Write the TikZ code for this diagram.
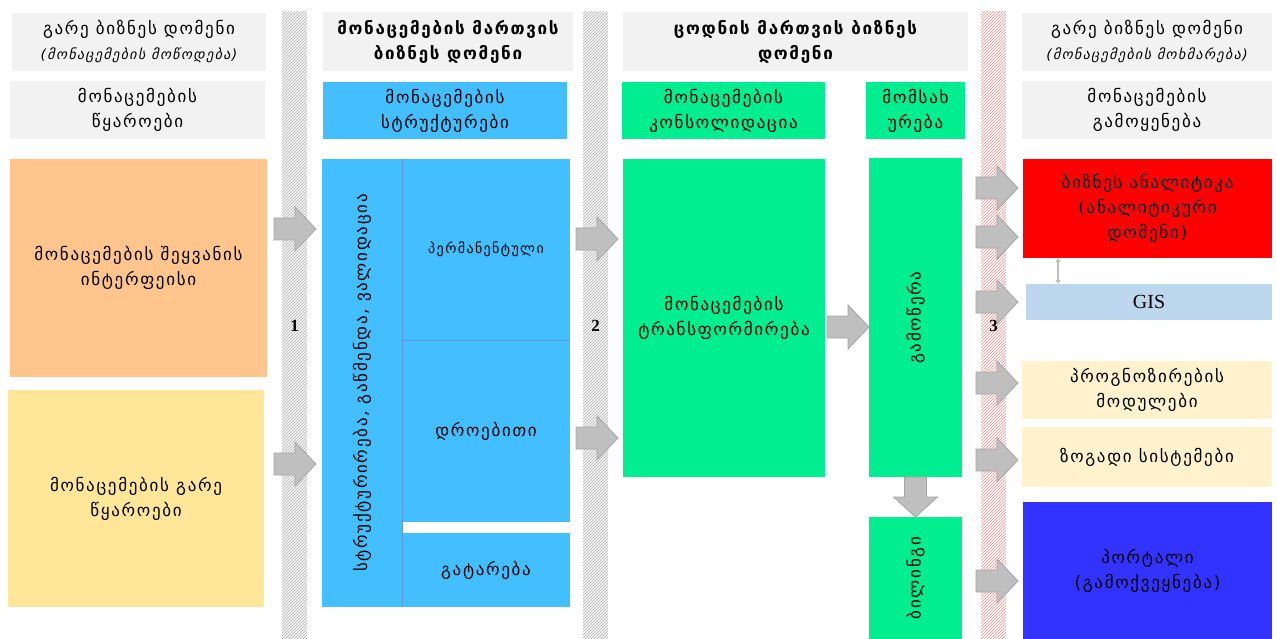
\documentclass[tikz,border=0pt]{standalone}
\usepackage{fontspec}
\setmainfont[LetterSpace=10]{DejaVu Sans}
\newfontfamily\timesfont{Liberation Serif}
\usetikzlibrary{patterns,arrows.meta}
\definecolor{hdrgray}{HTML}{F2F2F2}
\definecolor{orangebox}{HTML}{FFC58C}
\definecolor{yellowbox}{HTML}{FFE699}
\definecolor{bluebox}{HTML}{43BFFF}
\definecolor{blueline}{HTML}{5A9BD5}
\definecolor{greenbox}{HTML}{00EE90}
\definecolor{gisbox}{HTML}{BDD7EE}
\definecolor{creambox}{HTML}{FFF2CC}
\definecolor{portalbox}{HTML}{3333FF}
\definecolor{arrgray}{HTML}{BFBFBF}
\definecolor{arrline}{HTML}{A5A5A5}
\tikzset{
  box/.style={anchor=north west, inner sep=0pt, outer sep=0pt, align=center,
    font=\fontsize{17}{25}\selectfont},
  hdr/.style={box, fill=hdrgray},
  bar/.style={anchor=north west, inner sep=0pt, outer sep=0pt,
    minimum width=25pt, minimum height=627pt,
    font=\timesfont\bfseries\fontsize{17}{17}\selectfont},
  arrowfill/.style={fill=arrgray, draw=arrline, line width=0.8pt},
  rarrow/.pic={\draw[arrowfill] (0,-11)--(21,-11)--(21,-22)--(42,0)--(21,22)--(21,11)--(0,11)--cycle;},
  darrow/.pic={\draw[arrowfill] (-11,0)--(-11,20)--(-22,20)--(0,40)--(22,20)--(11,20)--(11,0)--cycle;},
}
\newcommand{\subt}[1]{{\itshape\fontsize{14}{19}\selectfont #1}}
\begin{document}
\begin{tikzpicture}[x=1pt,y=-1pt]
\useasboundingbox (0,0) rectangle (1277,639);
% hatched bars
\node[bar, preaction={fill=gray!8}, pattern=north east lines, pattern color=gray!60] (bar1) at (282,12) {1};
\node[bar, preaction={fill=gray!8}, pattern=north east lines, pattern color=gray!60] (bar2) at (583,12) {2};
\node[bar, preaction={fill=white}, pattern=north east lines, pattern color=red!45] (bar3) at (981,12) {3};
% sources
\node[hdr, minimum width=254pt, minimum height=58pt] (srchdr) at (12,13) {გარე ბიზნეს დომენი\\\subt{(მონაცემების მოწოდება)}};
\node[hdr, minimum width=255pt, minimum height=58pt] (srcsub) at (10,81) {მონაცემების\\წყაროები};
\node[box, fill=orangebox, minimum width=257pt, minimum height=218pt] (input) at (10,159) {მონაცემების შეყვანის\\ინტერფეისი};
\node[box, fill=yellowbox, minimum width=256pt, minimum height=217pt] (ext) at (8,390) {მონაცემების გარე\\წყაროები};
% data management
\node[hdr, minimum width=250pt, minimum height=59pt, font=\bfseries\fontsize{17}{25}\selectfont] (mgmthdr) at (323,12) {მონაცემების მართვის\\ბიზნეს დომენი};
\node[box, fill=bluebox, minimum width=244pt, minimum height=57pt] (structhdr) at (323,82) {მონაცემების\\სტრუქტურები};
\node[box, fill=bluebox, minimum width=80pt, minimum height=448pt] (clean) at (322,159) {};
\node[rotate=90, font=\fontsize{17}{25}\selectfont] (cleantxt) at (clean.center) {სტრუქტურირება, გაწმენდა, ვალიდაცია};
\node[box, fill=bluebox, minimum width=168pt, minimum height=181pt, font=\fontsize{14}{19}\selectfont] (perm) at (402,159) {პერმანენტული};
\node[box, fill=bluebox, minimum width=168pt, minimum height=182pt] (temp) at (402,340) {დროებითი};
\node[box, fill=bluebox, minimum width=168pt, minimum height=74pt] (post) at (402,533) {გატარება};
\draw[blueline, line width=0.6pt] (clean.north east) -- (clean.south east);
\draw[blueline, line width=0.6pt] (perm.south west) -- (perm.south east);
% knowledge management
\node[hdr, minimum width=345pt, minimum height=59pt, font=\bfseries\fontsize{17}{25}\selectfont] (knowhdr) at (623,12) {ცოდნის მართვის ბიზნეს\\დომენი};
\node[box, fill=greenbox, minimum width=203pt, minimum height=57pt] (conshdr) at (622,82) {მონაცემების\\კონსოლიდაცია};
\node[box, fill=greenbox, minimum width=99pt, minimum height=57pt] (servhdr) at (866,82) {მომსახ\\ურება};
\node[box, fill=greenbox, minimum width=202pt, minimum height=318pt] (transf) at (623,159) {მონაცემების\\ტრანსფორმირება};
\node[box, fill=greenbox, minimum width=93pt, minimum height=319pt] (subscr) at (869,158) {};
\node[rotate=90, font=\fontsize{17}{25}\selectfont] (subscrtxt) at (subscr.center) {გამოწერა};
\node[box, fill=greenbox, minimum width=93pt, minimum height=122pt] (billing) at (869,517) {};
\node[rotate=90, font=\fontsize{17}{25}\selectfont] (billingtxt) at (billing.center) {ბილინგი};
% data usage
\node[hdr, minimum width=250pt, minimum height=58pt] (usehdr) at (1022,13) {გარე ბიზნეს დომენი\\\subt{(მონაცემების მოხმარება)}};
\node[hdr, minimum width=250pt, minimum height=58pt] (usesub) at (1022,81) {მონაცემების\\გამოყენება};
\node[box, fill=red, minimum width=249pt, minimum height=99pt] (bi) at (1023,159) {ბიზნეს ანალიტიკა\\(ანალიტიკური\\დომენი)};
\node[box, fill=gisbox, minimum width=246pt, minimum height=36pt, font=\timesfont\fontsize{20}{20}\selectfont] (gis) at (1026,284) {GIS};
\node[box, fill=creambox, minimum width=250pt, minimum height=58pt] (prog) at (1022,361) {პროგნოზირების\\მოდულები};
\node[box, fill=creambox, minimum width=250pt, minimum height=60pt] (gen) at (1022,427) {ზოგადი სისტემები};
\node[box, fill=portalbox, minimum width=249pt, minimum height=137pt] (portal) at (1023,502) {პორტალი\\(გამოქვეყნება)};
\draw[{Latex[length=4pt,width=6pt]}-{Latex[length=4pt,width=6pt]}, arrgray, line width=2.5pt] ([xshift=35pt]bi.south west) -- ([xshift=32pt]gis.north west);
% block arrows
\pic at (274,229) {rarrow};
\pic at (274,464) {rarrow};
\pic at (576,239) {rarrow};
\pic at (576,438) {rarrow};
\pic at (827,327) {rarrow};
\pic at (subscr.south) {darrow};
\pic at (976,188) {rarrow};
\pic at (976,237) {rarrow};
\pic at (976,302) {rarrow};
\pic at (976,383) {rarrow};
\pic at (976,460) {rarrow};
\pic at (976,581) {rarrow};
\end{tikzpicture}
\end{document}
